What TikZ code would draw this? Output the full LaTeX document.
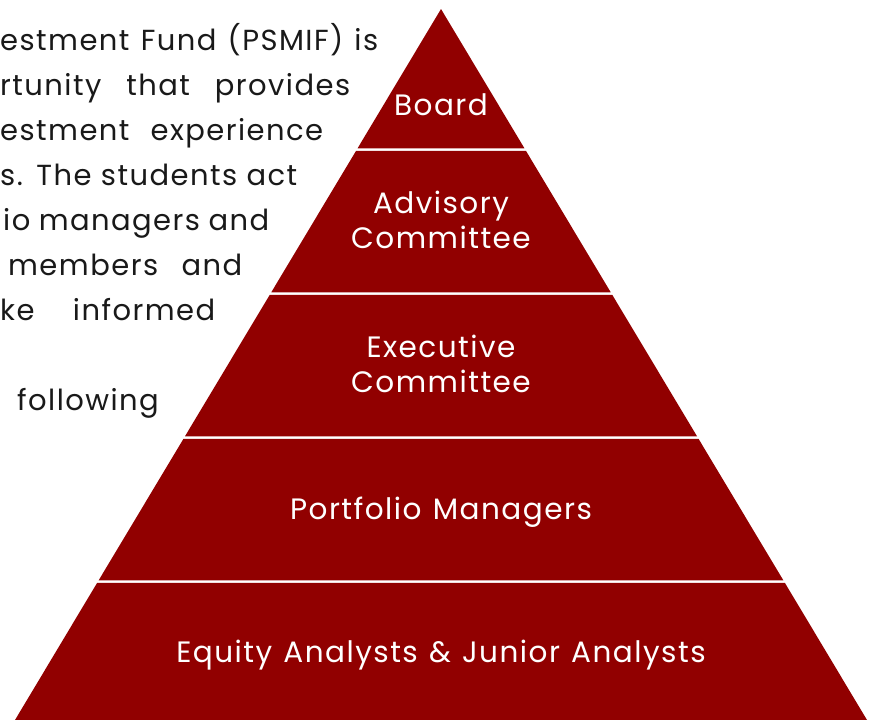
\documentclass[tikz,border=0pt]{standalone}
\usepackage{fontspec}
\setmainfont[LetterSpace=5,WordSpace=1.2]{Poppins}
\definecolor{tierred}{RGB}{145,0,0}
\definecolor{bodytext}{RGB}{25,25,25}
\tikzset{
  tier/.style={fill=tierred, draw=none},
  tierlabel/.style={text=white, font=\fontsize{29.5}{35}\selectfont, align=center, inner sep=0pt, anchor=base},
  paraline/.style={text=bodytext, font=\fontsize{29}{45}\selectfont, anchor=base west, inner sep=0pt},
}
\begin{document}
\begin{tikzpicture}[x=1pt,y=-1pt]
\useasboundingbox (0,0) rectangle (876,720);
% paragraph beside the pyramid
\node[paraline] (para1) at (0,50) {\makebox[378pt][s]{estment Fund (PSMIF) is}};
\node[paraline] (para2) at (0,95) {\makebox[350pt][s]{rtunity that provides}};
\node[paraline] (para3) at (0,140) {\makebox[323pt][s]{estment experience}};
\node[paraline] (para4) at (0,185) {\makebox[297pt][s]{s. The students act}};
\node[paraline] (para5) at (3,230) {\makebox[266pt][s]{io managers and}};
\node[paraline] (para6) at (8,275) {\makebox[234pt][s]{members and}};
\node[paraline] (para7) at (0,320) {\makebox[215pt][s]{ke informed}};
\node[paraline] (para8) at (17,410) {following};
% tiers
\fill[tier] (441,9) -- (524.4,148.25) -- (357.6,148.25) -- cycle;
\fill[tier] (356.1,150.75) -- (525.9,150.75) -- (610.7,292.25) -- (271.3,292.25) -- cycle;
\fill[tier] (269.8,294.75) -- (612.2,294.75) -- (697.0,436.25) -- (185.0,436.25) -- cycle;
\fill[tier] (183.5,438.75) -- (698.5,438.75) -- (783.3,580.25) -- (98.7,580.25) -- cycle;
\fill[tier] (97.2,582.75) -- (784.8,582.75) -- (867,720) -- (15,720) -- cycle;
% tier labels
\node[tierlabel] (board) at (441,115) {Board};
\node[tierlabel] (advisory) at (441,248) {Advisory\\Committee};
\node[tierlabel] (executive) at (441,392) {Executive\\Committee};
\node[tierlabel] (managers) at (441,519) {Portfolio Managers};
\node[tierlabel] (analysts) at (441,662) {Equity Analysts \& Junior Analysts};

\end{tikzpicture}
\end{document}
